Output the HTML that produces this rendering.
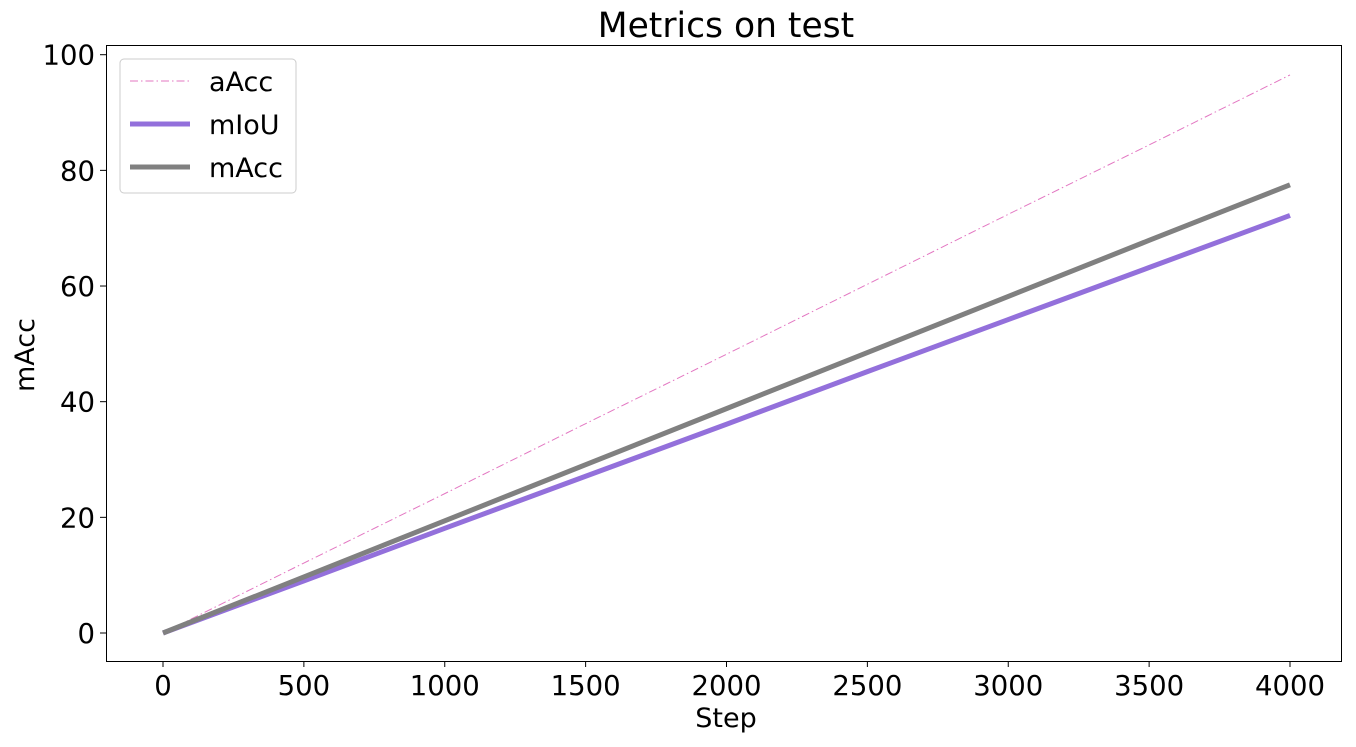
<!DOCTYPE html>
<html><head><meta charset="utf-8"><style>
body{margin:0;background:#fff;width:1356px;height:742px;overflow:hidden}
text{font-family:"DejaVu Sans","Liberation Sans",sans-serif;fill:#000}
</style></head><body>
<svg id="chart" width="1356" height="742" xmlns="http://www.w3.org/2000/svg"></svg>
<script>
const steps=[0,500,1000,1500,2000,2500,3000,3500,4000];
const aAcc=[0,12.1,24.1,36.2,48.2,60.3,72.4,84.4,96.5];
const mIoU=[0,9.0,18.1,27.1,36.1,45.2,54.2,63.2,72.2];
const mAcc=[0,9.7,19.4,29.1,38.8,48.5,58.2,67.9,77.5];
const xTicks=[0,500,1000,1500,2000,2500,3000,3500,4000];
const yTicks=[0,20,40,60,80,100];
const NS="http://www.w3.org/2000/svg";
const svg=document.getElementById('chart');
const L=106,R=1341,T=45,B=661;
const xs=v=>163+v*(1290-163)/4000;
const ys=v=>633-v*5.783;
function mk(t,a){const e=document.createElementNS(NS,t);for(const k in a)e.setAttribute(k,a[k]);svg.appendChild(e);return e;}
const frame=mk('rect',{x:L+0.5,y:T+0.5,width:R-L,height:B-T,fill:'none',stroke:'#000','stroke-width':1});


xTicks.forEach(v=>{const x=xs(v);
 const t=mk('line',{x1:x,x2:x,y1:B,y2:B+6,stroke:'#000'});
 
 
 const l=mk('text',{x:x,y:B+34,'text-anchor':'middle','font-size':27.5});l.textContent=v;
 
 });
yTicks.forEach(v=>{const y=ys(v);
 const t=mk('line',{x1:L-6,x2:L,y1:y,y2:y,stroke:'#000'});
 
 
 const l=mk('text',{x:L-11,y:y+10,'text-anchor':'end','font-size':27.5});l.textContent=v;
 
 });
function series(vals,color,w,dash,name){
 const p=mk('polyline',{points:steps.map((s,i)=>xs(s)+','+ys(vals[i])).join(' '),fill:'none',stroke:color,'stroke-width':w,'stroke-dasharray':dash||'none','stroke-linecap':'butt'});
 
 }
series(aAcc,'#e377c2',1,'8,3,1.5,3','line-aacc');
series(mIoU,'#9370db',5,null,'line-miou');
series(mAcc,'#808080',5,null,'line-macc');
const title=mk('text',{x:726,y:37,'text-anchor':'middle','font-size':34.5});title.textContent='Metrics on test';


const xl=mk('text',{x:726,y:727,'text-anchor':'middle','font-size':27});xl.textContent='Step';


const yl=mk('text',{x:34,y:355,'text-anchor':'middle','font-size':27,transform:'rotate(-90 34 355)'});yl.textContent='mAcc';


const lg=mk('rect',{x:120,y:59,width:176,height:134,rx:4,fill:'#fff',stroke:'#ccc'});


[['aAcc','#e377c2',1,'8,3,1.5,3',82],['mIoU','#9370db',5,null,125],['mAcc','#808080',5,null,168]].forEach(e=>{
 const ln=mk('line',{x1:130,x2:190,y1:e[4]-1,y2:e[4]-1,stroke:e[1],'stroke-width':e[2],'stroke-dasharray':e[3]||'none'});
 
 
 const t=mk('text',{x:209,y:e[4]+9,'font-size':27});t.textContent=e[0];
 
 });
</script>
</body></html>
